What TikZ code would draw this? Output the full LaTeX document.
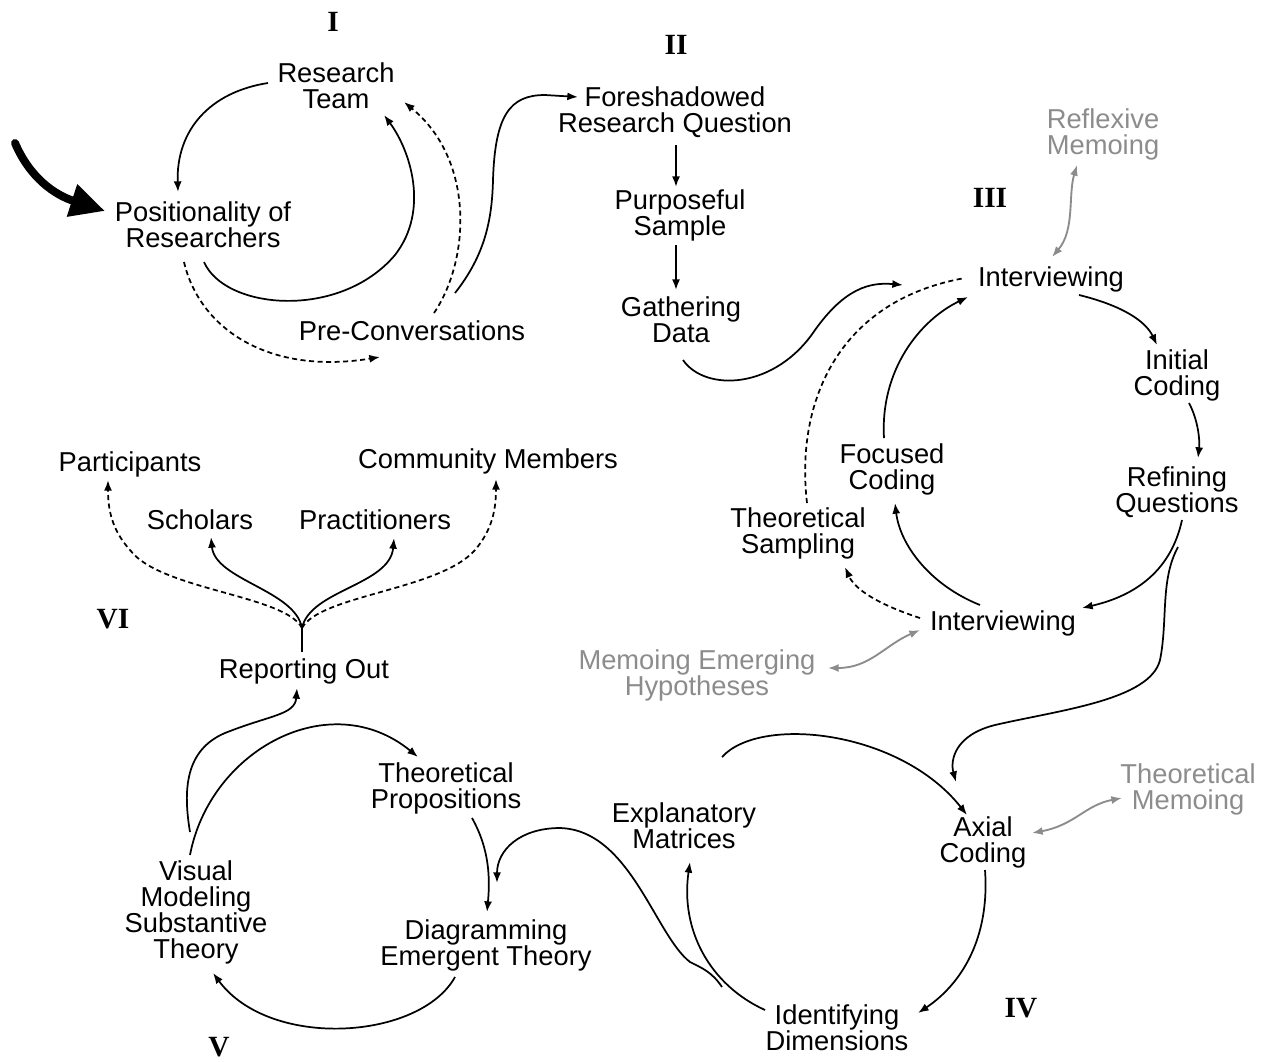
\documentclass[tikz,border=0pt]{standalone}
\usepackage{fontspec}
\setmainfont{Liberation Sans}
\newfontfamily\romfont{Liberation Serif}
\usetikzlibrary{arrows.meta,calc}
\newcommand\lblfont{\fontsize{20.5pt}{19.5pt}\selectfont}
\newcommand\romsize{\romfont\bfseries\fontsize{22pt}{24pt}\selectfont}
\definecolor{memo}{RGB}{140,140,140}
\tikzset{
  lbl/.style={align=center, inner sep=0pt, text depth=0pt, font=\lblfont, text=black},
  memolbl/.style={lbl, text=memo},
  rom/.style={inner sep=0pt, font=\romsize},
  tip/.style={-{Latex[length=8pt,width=6pt]}},
  arr/.style={draw=black, line width=1.3pt, tip},
  dsh/.style={draw=black, line width=1.3pt, dash pattern=on 3.8pt off 2.6pt},
  darr/.style={dsh, tip},
  plain/.style={draw=black, line width=1.3pt},
  memoarr/.style={draw=memo, line width=1.4pt, {Latex[length=8pt,width=6pt]}-{Latex[length=8pt,width=6pt]}},
}
\begin{document}
\begin{tikzpicture}[x=0.75pt,y=-0.75pt]
\useasboundingbox (0,0) rectangle (1266,1061);

% ---- stage labels
\node[rom] (sI)   at (333,22)  {I};
\node[rom] (sII)  at (676,45)  {II};
\node[rom] (sIII) at (990,198) {III};
\node[rom] (sIV)  at (1021,1008) {IV};
\node[rom] (sV)   at (219,1047) {V};
\node[rom] (sVI)  at (113,619) {VI};

% ---- nodes
\node[lbl] (RT)  at (336,86)  {Research\\Team};
\node[lbl] (Pos) at (203,225) {Positionality of\\Researchers};
\node[lbl] (Pre) at (412,331) {Pre-Conversations};
\node[lbl] (FRQ) at (675,110) {Foreshadowed\\Research Question};
\node[lbl] (PS)  at (680,213) {Purposeful\\Sample};
\node[lbl] (GD)  at (681,320) {Gathering\\Data};
\node[memolbl] (RM) at (1103,132) {Reflexive\\Memoing};
\node[lbl] (IntT) at (1051,277) {Interviewing};
\node[lbl] (IC)  at (1177,373) {Initial\\Coding};
\node[lbl] (RQ)  at (1177,490) {Refining\\Questions};
\node[lbl] (FC)  at (892,467) {Focused\\Coding};
\node[lbl] (TS)  at (798,531) {Theoretical\\Sampling};
\node[lbl] (IntB) at (1003,621) {Interviewing};
\node[memolbl] (MEH) at (697,673) {Memoing Emerging\\Hypotheses};
\node[lbl] (Part) at (130,462) {Participants};
\node[lbl] (Sch)  at (200,520) {Scholars};
\node[lbl] (Prac) at (375,520) {Practitioners};
\node[lbl] (CM)   at (488,459) {Community Members};
\node[lbl] (RO)   at (304,669) {Reporting Out};
\node[lbl] (TP)   at (446,786) {Theoretical\\Propositions};
\node[lbl] (EM)   at (684,826) {Explanatory\\Matrices};
\node[lbl] (AC)   at (983,840) {Axial\\Coding};
\node[memolbl] (TM) at (1188,787) {Theoretical\\Memoing};
\node[lbl] (VM)   at (196,910) {Visual\\Modeling\\Substantive\\Theory};
\node[lbl] (DET)  at (486,943) {Diagramming\\Emergent Theory};
\node[lbl] (ID)   at (837,1028) {Identifying\\Dimensions};

% ---- entry arrow
\coordinate (entry) at (15,143);
\draw[line width=6pt, line cap=round, -{Triangle[length=26pt,width=24pt]}]
  (entry) .. controls (30,178) and (55,195) .. ($(Pos.center)+(-98,-14)$);

% ---- stage I
\draw[arr] ($(RT.center)+(-68,-3)$) .. controls (210,92) and (176,130) .. ($(Pos.center)+(-25,-33)$);
\draw[arr] ($(Pos.center)+(1,37)$) .. controls (225,310) and (340,320) .. (395,255)
  .. controls (430,210) and (410,150) .. ($(RT.center)+(48,29)$);
\draw[darr] ($(Pos.center)+(-19,37)$) .. controls (200,330) and (270,375) .. ($(Pre.center)+(-32,26)$);
\draw[darr] ($(Pre.center)+(22,-18)$) .. controls (470,260) and (475,160) .. ($(RT.center)+(68,16)$);
\draw[arr] ($(Pre.center)+(43,-38)$) .. controls (485,255) and (492,220) .. (493,180)
  .. controls (495,115) and (510,95) .. (545,95) -- ($(FRQ.center)+(-97,-13)$);

% ---- stage II
\draw[arr] ($(FRQ.center)+(1,35)$) -- ($(PS.center)+(-4,-26)$);
\draw[arr] ($(PS.center)+(-4,32)$) -- ($(GD.center)+(-5,-30)$);
\draw[arr] ($(GD.center)+(2,40)$) .. controls (705,392) and (775,390) .. (815,330)
  .. controls (845,288) and (870,282) .. ($(IntT.center)+(-148,8)$);

% ---- stage III
\draw[dsh] ($(TS.center)+(9,-28)$) .. controls (795,400) and (840,300) .. ($(IntT.center)+(-86,1)$);
\draw[arr] ($(FC.center)+(-8,-29)$) .. controls (880,370) and (920,320) .. ($(IntT.center)+(-83,20)$);
\draw[arr] ($(IntT.center)+(28,18)$) .. controls (1120,305) and (1145,320) .. ($(IC.center)+(-20,-28)$);
\draw[arr] ($(IC.center)+(12,30)$) .. controls (1198,420) and (1200,440) .. ($(RQ.center)+(21,-32)$);
\draw[arr] ($(RQ.center)+(5,30)$) .. controls (1170,575) and (1130,597) .. ($(IntB.center)+(79,-13)$);
\draw[arr] ($(IntB.center)+(-23,-16)$) .. controls (930,585) and (900,545) .. ($(FC.center)+(3,36)$);
\draw[darr] ($(IntB.center)+(-83,-3)$) .. controls (880,605) and (855,590) .. ($(TS.center)+(47,36)$);
\draw[memoarr] ($(IntB.center)+(-83,9)$) .. controls (885,645) and (870,668) .. ($(MEH.center)+(131,-5)$);
\draw[memoarr] ($(RM.center)+(-26,33)$) .. controls (1068,195) and (1075,230) .. ($(IntT.center)+(1,-20)$);
\draw[arr] ($(RQ.center)+(1,57)$) .. controls (1160,580) and (1168,620) .. (1160,660)
  .. controls (1150,700) and (1060,710) .. (995,725)
  .. controls (955,735) and (950,760) .. ($(AC.center)+(-27,-58)$);

% ---- stage IV
\draw[arr] ($(EM.center)+(38,-69)$) .. controls (760,715) and (900,730) .. ($(AC.center)+(-16,-25)$);
\draw[memoarr] ($(AC.center)+(49,-7)$) .. controls (1075,825) and (1085,805) .. ($(TM.center)+(-66,11)$);
\draw[arr] ($(AC.center)+(2,30)$) .. controls (990,940) and (960,985) .. ($(ID.center)+(81,-15)$);
\draw[arr] ($(ID.center)+(-72,-18)$) .. controls (710,985) and (680,930) .. ($(EM.center)+(6,36)$);
\draw[arr] ($(ID.center)+(-115,-41)$) .. controls (712,972) and (702,968) .. (690,962)
  .. controls (655,935) and (630,830) .. (560,828)
  .. controls (520,828) and (497,850) .. ($(DET.center)+(11,-60)$);

% ---- stage V
\draw[arr] ($(TP.center)+(26,32)$) .. controls (490,850) and (490,880) .. ($(DET.center)+(1,-31)$);
\draw[arr] ($(DET.center)+(-31,34)$) .. controls (420,1040) and (270,1050) .. ($(VM.center)+(17,63)$);
\draw[arr] ($(VM.center)+(-6,-55)$) .. controls (210,750) and (330,685) .. ($(TP.center)+(-28,-29)$);
\draw[arr] ($(VM.center)+(-6,-78)$) .. controls (183,790) and (185,750) .. (225,733)
  .. controls (270,715) and (295,715) .. ($(RO.center)+(-7,19)$);

% ---- stage VI
\coordinate (J) at ($(RO.center)+(-2,-41)$);
\draw[plain] ($(RO.center)+(-2,-17)$) -- (J);
\draw[arr] (J) .. controls (295,590) and (215,580) .. ($(Sch.center)+(11,17)$);
\draw[arr] (J) .. controls (310,590) and (390,585) .. ($(Prac.center)+(19,18)$);
\draw[darr] (J) .. controls (285,595) and (160,590) .. (130,550)
  .. controls (112,530) and (108,510) .. ($(Part.center)+(-22,18)$);
\draw[darr] (J) .. controls (320,595) and (440,590) .. (475,550)
  .. controls (492,530) and (496,510) .. ($(CM.center)+(8,20)$);
\end{tikzpicture}
\end{document}
